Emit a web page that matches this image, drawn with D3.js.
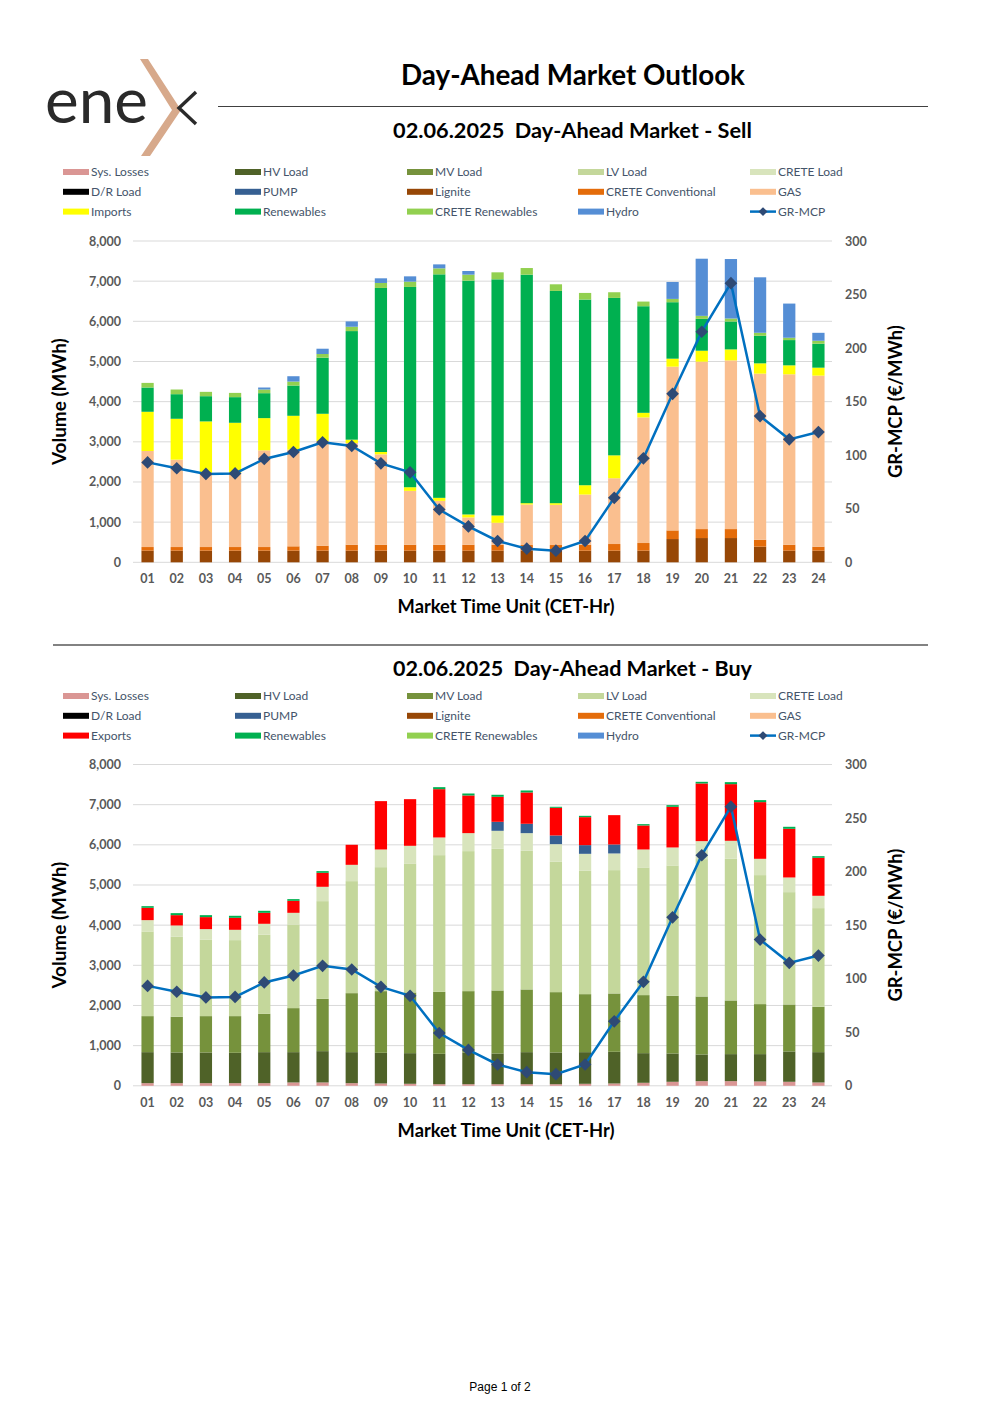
<!DOCTYPE html>
<html lang="en">
<head>
<meta charset="UTF-8">
<title>Day-Ahead Market Outlook</title>
<script src="https://d3js.org/d3.v7.min.js"></script>
<style>
  body { margin: 0; background: #fff; }
  svg { display: block; }
  .head { font-family: Lato, "DejaVu Sans", sans-serif; font-weight: 700; fill: #000; }
  .tick-lbl { font-family: Lato, "DejaVu Sans", sans-serif; font-weight: 700; font-size: 12.5px; fill: #595959; }
  .leg { font-family: Lato, "DejaVu Sans", sans-serif; font-size: 12px; fill: #44546A; }
  .ax-title { font-family: Lato, "DejaVu Sans", sans-serif; font-weight: 700; fill: #000; }
</style>
</head>
<body>
<div id="page"></div>
<script>
const hours = ["01","02","03","04","05","06","07","08","09","10","11","12",
               "13","14","15","16","17","18","19","20","21","22","23","24"];

// GR-MCP, €/MWh
const mcp = [93.3, 87.8, 82.5, 83.0, 96.5, 103, 112, 108.6, 92.4, 84, 49.3, 33.5,
             19.9, 12.7, 10.9, 19.9, 60.2, 97.1, 157.3, 215.3, 260.6, 136.5, 114.8, 121.6];

// Sell side, MWh
const lignite   = [290,290,290,290,290,290,290,290,290,290,290,290,290,290,290,290,290,290,579,604,604,389,290,290];
const creteConv = [90,90,90,90,90,108,124,148,148,148,148,148,148,140,140,148,165,190,215,223,223,173,148,99];
const gas       = [2391,2176,1812,1845,2408,2406,2605,2532,2250,1340,1092,679,546,1009,1001,1249,1638,3127,4077,4168,4201,4135,4243,4259];
const imports   = [977,1018,1316,1249,802,844,679,83,58,91,75,74,182,33,41,232,570,115,199,273,273,257,223,198];
const renew     = [604,612,628,638,621,753,1397,2704,4085,4987,5565,5822,5880,5690,5285,4623,3920,2654,1406,794,695,686,629,596];
const creteRen  = [115,116,108,106,91,99,91,108,124,132,149,149,174,165,165,165,141,116,82,74,74,75,58,74];
const hydro     = [0,0,0,0,50,133,132,133,116,132,99,91,0,0,0,0,0,0,422,1423,1481,1381,851,198];

// Buy side, MWh
const sysLosses = [66,66,66,66,66,83,83,66,58,50,40,40,40,40,40,50,58,75,100,116,116,108,100,83];
const hvLoad    = [772,764,764,756,772,755,780,772,764,763,757,790,765,798,790,788,789,738,705,664,673,681,755,755];
const mvLoad    = [897,888,905,913,955,1096,1303,1469,1535,1511,1543,1527,1569,1561,1502,1444,1452,1445,1436,1444,1336,1245,1170,1129];
const lvLoad    = [2108,1992,1900,1892,1967,2083,2432,2789,3087,3212,3403,3486,3527,3452,3245,3071,3071,3179,3245,3420,3527,3212,2797,2457];
const creteLoad = [282,282,266,257,274,290,357,406,440,440,440,448,448,440,440,423,415,447,448,448,448,406,365,307];
const pump      = [0,0,0,0,0,0,0,0,0,0,0,0,224,233,216,216,224,0,0,0,0,0,0,0];
const exportsB  = [307,257,299,299,273,299,348,499,1204,1161,1203,938,623,780,689,697,730,598,1013,1436,1411,1411,1212,946];
const renewBuy  = [41,50,49,50,50,42,42,0,0,0,50,49,50,49,25,33,0,33,41,41,50,50,50,41];

const col = {
  "Sys. Losses": "#DA9694", "HV Load": "#4F6228", "MV Load": "#76923C", "LV Load": "#C4D79B",
  "CRETE Load": "#D8E4BC", "D/R Load": "#000000", "PUMP": "#366092", "Lignite": "#974706",
  "CRETE Conventional": "#E46C0A", "GAS": "#FABF8F", "Imports": "#FFFF00", "Exports": "#FF0000",
  "Renewables": "#00B050", "CRETE Renewables": "#92D050", "Hydro": "#558ED5"
};

const sellSeries = [
  ["Lignite", lignite], ["CRETE Conventional", creteConv], ["GAS", gas], ["Imports", imports],
  ["Renewables", renew], ["CRETE Renewables", creteRen], ["Hydro", hydro]
];
const buySeries = [
  ["Sys. Losses", sysLosses], ["HV Load", hvLoad], ["MV Load", mvLoad], ["LV Load", lvLoad],
  ["CRETE Load", creteLoad], ["PUMP", pump], ["Exports", exportsB], ["Renewables", renewBuy]
];

const legendSell = ["Sys. Losses","HV Load","MV Load","LV Load","CRETE Load",
                    "D/R Load","PUMP","Lignite","CRETE Conventional","GAS",
                    "Imports","Renewables","CRETE Renewables","Hydro","GR-MCP"];
const legendBuy  = ["Sys. Losses","HV Load","MV Load","LV Load","CRETE Load",
                    "D/R Load","PUMP","Lignite","CRETE Conventional","GAS",
                    "Exports","Renewables","CRETE Renewables","Hydro","GR-MCP"];

const W = 1000, H = 1415;
const svg = d3.select("#page").append("svg").attr("width", W).attr("height", H);

// scale text to a target width
function fit(sel, target) {
  const n = sel.node();
  const fs = parseFloat(sel.attr("font-size"));
  const w = n.getComputedTextLength();
  if (w > 0) sel.attr("font-size", fs * target / w);
  return sel;
}

// ---- logo ----
const logo = svg.append("g");
fit(logo.append("text").attr("x", 45).attr("y", 123).attr("font-size", 60)
  .attr("font-family", "Lato, 'DejaVu Sans', sans-serif").attr("font-weight", 400)
  .attr("fill", "#2a2a2a").text("ene"), 103);
logo.append("path")
  .attr("d", "M140,59 L148,59 L181,110 L150,156 L141,156 L172,110 Z")
  .attr("fill", "#D7A98B");
logo.append("path")
  .attr("d", "M196,92 L179,108 L196,124")
  .attr("fill", "none").attr("stroke", "#2a2a2a").attr("stroke-width", 3.4);

// ---- header ----
fit(svg.append("text").attr("class", "head").attr("x", 573).attr("y", 85)
  .attr("text-anchor", "middle").attr("font-size", 24).text("Day-Ahead Market Outlook"), 344);
svg.append("line").attr("x1", 218).attr("x2", 928).attr("y1", 106.5).attr("y2", 106.5)
  .attr("stroke", "#404040").attr("stroke-width", 1.2);
svg.append("line").attr("x1", 53).attr("x2", 928).attr("y1", 645).attr("y2", 645)
  .attr("stroke", "#595959").attr("stroke-width", 1.5);

svg.append("text").attr("x", 500).attr("y", 1391).attr("text-anchor", "middle")
  .attr("font-family", "'Liberation Sans', Arial, sans-serif").attr("font-size", 12)
  .attr("fill", "#000").text("Page 1 of 2");

function drawChart(cfg) {
  const g = svg.append("g");
  const top = cfg.top, bottom = cfg.top + 321.3;

  fit(g.append("text").attr("class", "head").attr("x", 572.5).attr("y", cfg.titleY)
    .attr("text-anchor", "middle").attr("font-size", 20).text(cfg.title), 359);

  // legend
  const legX = [63, 235, 407, 578, 750];
  cfg.legend.forEach((name, i) => {
    const lx = legX[i % 5], ly = cfg.legY + Math.floor(i / 5) * 19.8;
    const lg = g.append("g");
    if (name === "GR-MCP") {
      lg.append("line").attr("x1", lx).attr("x2", lx + 26).attr("y1", ly).attr("y2", ly)
        .attr("stroke", "#0070C0").attr("stroke-width", 2.5);
      lg.append("path").attr("d", d3.symbol(d3.symbolSquare, 40)())
        .attr("transform", `translate(${lx + 13},${ly}) rotate(45)`).attr("fill", "#2E4A75");
    } else {
      lg.append("rect").attr("x", lx).attr("y", ly - 3).attr("width", 26).attr("height", 6)
        .attr("fill", col[name]);
    }
    lg.append("text").attr("class", "leg").attr("x", lx + 28).attr("y", ly).attr("dy", "0.35em").text(name);
  });

  const x = d3.scaleBand().domain(hours).range([133, 833]).paddingInner(0.58).paddingOuter(0.29);
  const y = d3.scaleLinear().domain([0, 8000]).range([bottom, top]);
  const y2 = d3.scaleLinear().domain([0, 300]).range([bottom, top]);

  // gridlines
  g.append("g").selectAll("line").data(y.ticks(8)).join("line")
    .attr("x1", 133).attr("x2", 832).attr("y1", d => y(d)).attr("y2", d => y(d))
    .attr("stroke", "#d9d9d9").attr("stroke-width", 1);

  // left axis
  const ya = g.append("g").attr("transform", "translate(121,0)")
    .call(d3.axisLeft(y).ticks(8).tickSize(0).tickPadding(0).tickFormat(d3.format(",")));
  ya.select(".domain").remove();
  ya.selectAll("text").attr("class", "tick-lbl").attr("font-family", null).attr("font-size", null);

  // right axis
  const yb = g.append("g").attr("transform", "translate(845,0)")
    .call(d3.axisRight(y2).ticks(6).tickSize(0).tickPadding(0));
  yb.select(".domain").remove();
  yb.selectAll("text").attr("class", "tick-lbl").attr("font-family", null).attr("font-size", null);

  // bottom axis
  const xa = g.append("g").attr("transform", `translate(0,${bottom + 12})`)
    .call(d3.axisBottom(x).tickSize(0).tickPadding(0));
  xa.select(".domain").remove();
  xa.selectAll("text").attr("class", "tick-lbl").attr("font-family", null).attr("font-size", null)
    .attr("dy", "0.71em");

  // stacked bars
  const rows = hours.map((h, i) => {
    const r = { hour: h };
    cfg.series.forEach(([k, arr]) => r[k] = arr[i]);
    return r;
  });
  const stack = d3.stack().keys(cfg.series.map(s => s[0]))(rows);
  g.append("g").selectAll("g").data(stack).join("g")
    .attr("fill", d => col[d.key])
    .selectAll("rect").data(d => d).join("rect")
    .attr("x", d => x(d.data.hour)).attr("width", x.bandwidth())
    .attr("y", d => y(d[1])).attr("height", d => Math.max(0, y(d[0]) - y(d[1])));

  // price line
  const cx = h => x(h) + x.bandwidth() / 2;
  g.append("path").datum(mcp)
    .attr("d", d3.line().x((d, i) => cx(hours[i])).y(d => y2(d)))
    .attr("fill", "none").attr("stroke", "#0070C0").attr("stroke-width", 2.5);
  g.append("g").selectAll("path").data(mcp).join("path")
    .attr("d", d3.symbol(d3.symbolSquare, 80)())
    .attr("transform", (d, i) => `translate(${cx(hours[i])},${y2(d)}) rotate(45)`)
    .attr("fill", "#2E4A75");

  // axis titles
  fit(g.append("text").attr("class", "ax-title").attr("font-size", 17)
    .attr("transform", `translate(66,${(top + bottom) / 2}) rotate(-90)`)
    .attr("text-anchor", "middle").text("Volume (MWh)"), 127);
  fit(g.append("text").attr("class", "ax-title").attr("font-size", 17)
    .attr("transform", `translate(902,${(top + bottom) / 2}) rotate(-90)`)
    .attr("text-anchor", "middle").text("GR-MCP (€/MWh)"), 153);
  fit(g.append("text").attr("class", "ax-title").attr("font-size", 17)
    .attr("x", 506).attr("y", bottom + 51).attr("text-anchor", "middle")
    .text("Market Time Unit (CET-Hr)"), 217);
}

drawChart({ top: 241, titleY: 138, title: "02.06.2025\u00a0\u00a0Day-Ahead Market - Sell",
            legY: 172, legend: legendSell, series: sellSeries });
drawChart({ top: 764.5, titleY: 676, title: "02.06.2025\u00a0\u00a0Day-Ahead Market - Buy",
            legY: 696, legend: legendBuy, series: buySeries });
</script>
</body>
</html>
